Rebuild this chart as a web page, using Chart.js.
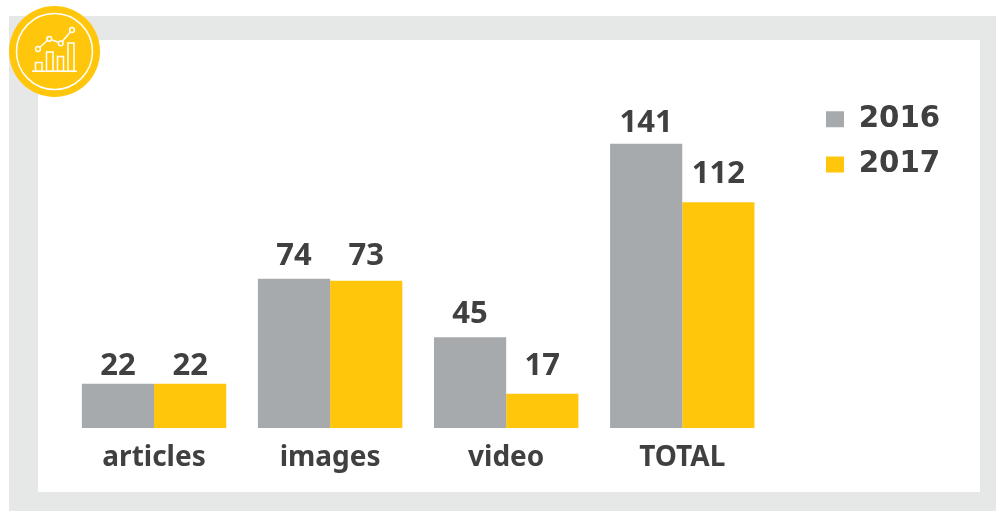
<!DOCTYPE html>
<html><head><meta charset="utf-8">
<style>html,body{margin:0;padding:0;background:#fff;overflow:hidden}#w{position:relative;width:996px;height:511px}</style>
<script src="https://cdn.jsdelivr.net/npm/chart.js@4/dist/chart.umd.min.js"></script>
</head><body><div id="w"><canvas id="c" width="996" height="511"></canvas></div>
<script>
const categories = ["articles","images","video","TOTAL"];
const seriesNames = ["2016","2017"];
const values2016 = [22,74,45,141];
const values2017 = [22,73,17,112];
const GREY="#a7aaac", YEL="#ffc60b", INK="#404040";
const labelLift=[[0,5,5,3],[0,7,10,10]];

const decor={id:'decor',
 beforeDraw(ch){const x=ch.ctx;x.save();
  x.fillStyle='#fff';x.fillRect(0,0,996,511);
  x.fillStyle='#e6e8e8';x.fillRect(9,16,987,495);
  x.fillStyle='#fff';x.fillRect(38,40,942,452);
  x.restore();},
 afterDraw(ch){const x=ch.ctx;x.save();
  x.fillStyle=YEL;x.beginPath();x.arc(54.5,51.5,45.5,0,7);x.fill();
  x.strokeStyle='#fff';x.lineWidth=1.5;x.beginPath();x.arc(54.5,51.5,38,0,7);x.stroke();
  x.beginPath();x.moveTo(32,71.3);x.lineTo(77,71.3);x.stroke();
  [[35.5,62.5,6.5],[46.5,52,6.5],[57.5,56.5,6],[68,43,6]].forEach(b=>{x.strokeRect(b[0],b[1],b[2],71.3-b[1]);});
  const p=[[38,49],[49.3,38.8],[60.7,43.3],[72,30]];
  x.beginPath();p.forEach((q,i)=>i?x.lineTo(q[0],q[1]):x.moveTo(q[0],q[1]));x.stroke();
  p.forEach(q=>{x.beginPath();x.arc(q[0],q[1],2.4,0,7);x.fillStyle=YEL;x.fill();x.stroke();});
  x.restore();}
};
const valueLabels={id:'valueLabels',
 afterDatasetsDraw(ch){const x=ch.ctx;x.save();
  x.font='700 31px "Noto Sans"';x.fillStyle=INK;x.textAlign='center';x.textBaseline='alphabetic';
  ch.data.datasets.forEach((d,di)=>{ch.getDatasetMeta(di).data.forEach((b,i)=>{x.fillText(String(d.data[i]),b.x,b.y-9-labelLift[di][i]);});});
  x.restore();}
};
const moveLegend={id:'moveLegend',
 afterLayout(ch){const l=ch.legend;l.left=810;l.right=l.left+l.width;l.top=88.5;l.bottom=l.top+l.height;}
};
new Chart(document.getElementById('c'),{
 type:'bar',
 data:{labels:categories,datasets:[
  {label:seriesNames[0],data:values2016,backgroundColor:GREY},
  {label:seriesNames[1],data:values2017,backgroundColor:YEL}]},
 plugins:[decor,valueLabels,moveLegend],
 options:{responsive:false,animation:false,
  layout:{padding:{left:66,right:85.5,top:41,bottom:0}},
  datasets:{bar:{barPercentage:1,categoryPercentage:0.82}},
  plugins:{tooltip:{enabled:false},title:{display:false},
   legend:{position:'right',align:'start',
    labels:{boxWidth:18,boxHeight:16,padding:16,color:INK,font:{family:'"DejaVu Sans"',weight:'700',size:29.3}}}},
  scales:{
   x:{grid:{display:false},border:{display:false},
      afterFit(s){s.height=83;},
      ticks:{color:INK,padding:5,maxRotation:0,font:{family:'"Noto Sans"',weight:'700',size:28}}},
   y:{display:false,min:0,max:192}
  }}
});
</script></body></html>
